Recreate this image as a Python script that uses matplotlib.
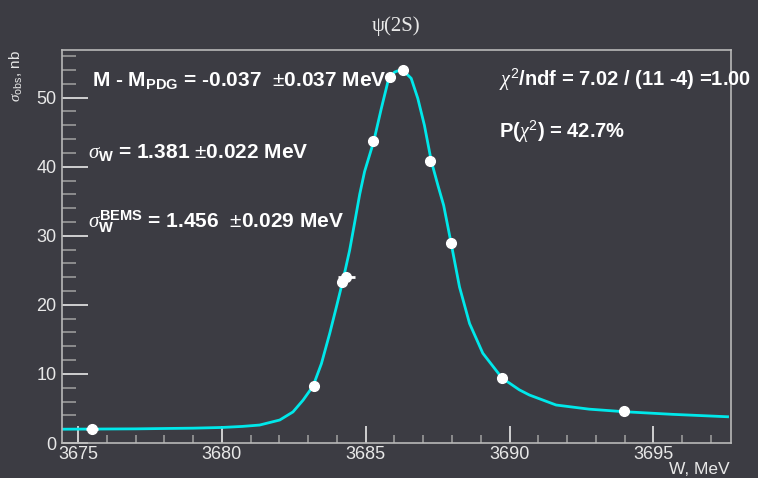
import matplotlib
matplotlib.use('Agg')
import matplotlib.pyplot as plt
from matplotlib.ticker import MultipleLocator

# measured cross section points
w_mev = [3675.48, 3683.19, 3684.16, 3684.33, 3685.27, 3685.83, 3686.28, 3687.25, 3687.98, 3689.75, 3693.99]
sigma_nb = [2.1, 8.2, 23.3, 24.0, 43.7, 53.0, 54.0, 40.8, 28.9, 9.4, 4.6]
w_err = [0.2, 0.05, 0.05, 0.28, 0.05, 0.05, 0.05, 0.05, 0.05, 0.05, 0.05]
sigma_err = [0.2, 0.3, 0.3, 0.3, 0.3, 0.3, 0.3, 0.3, 0.3, 0.3, 0.2]

# fit curve, sampled
fit_w = [3674.44, 3677.0, 3679.0, 3680.0, 3680.7, 3681.31, 3682.01, 3682.47, 3682.82,
         3683.17, 3683.46, 3683.75, 3683.98, 3684.21, 3684.44, 3684.61, 3684.79,
         3684.96, 3685.28, 3685.54, 3685.77, 3686.0, 3686.26, 3686.58, 3686.81,
         3687.04, 3687.28, 3687.51, 3687.71, 3687.97, 3688.26, 3688.61, 3689.07,
         3689.74, 3690.34, 3690.69, 3691.62, 3692.77, 3693.99, 3695.67, 3697.58]
fit_sigma = [2.0, 2.05, 2.15, 2.25, 2.4, 2.6, 3.33, 4.5, 6.2,
             8.25, 11.5, 15.9, 19.7, 23.6, 27.9, 31.8, 36.0,
             39.3, 43.7, 48.4, 52.3, 53.7, 54.1, 52.8, 49.9,
             46.0, 40.8, 37.3, 34.4, 28.9, 22.6, 17.3, 13.0,
             9.4, 7.7, 6.95, 5.5, 4.9, 4.53, 4.15, 3.8]

bg = '#3c3c43'
fg = '#e8e8e8'
plt.rcParams['font.family'] = ['Liberation Sans', 'DejaVu Sans']
plt.rcParams['mathtext.fontset'] = 'custom'
plt.rcParams['mathtext.rm'] = 'Liberation Sans'
plt.rcParams['mathtext.bf'] = 'Liberation Sans:bold'
plt.rcParams['mathtext.it'] = 'Liberation Serif:italic'

fig = plt.figure(figsize=(7.58, 4.78), dpi=100, facecolor=bg)
ax = fig.add_axes([0.0818, 0.0732, 0.8826, 0.8222], facecolor=bg)

ax.plot(fit_w, fit_sigma, color='#00e8ea', lw=2, zorder=2, solid_joinstyle='round')
ax.errorbar(w_mev, sigma_nb, xerr=w_err, yerr=sigma_err, fmt='o', color='white',
            ms=7, elinewidth=2, capsize=0, zorder=3)

ax.set_xlim(3674.44, 3697.7)
ax.set_ylim(0, 56.9)
ax.xaxis.set_major_locator(MultipleLocator(5))
ax.xaxis.set_minor_locator(MultipleLocator(1))
ax.yaxis.set_major_locator(MultipleLocator(10))
ax.yaxis.set_minor_locator(MultipleLocator(2))
ax.tick_params(which='both', direction='in', colors=fg, labelsize=13, top=False, right=False)
ax.tick_params(axis='y', which='major', length=19, width=1.2, pad=4)
ax.tick_params(axis='y', which='minor', length=10, width=1.2, color='#9a9a9a')
ax.tick_params(axis='x', which='major', length=12, width=1.2, pad=2)
ax.tick_params(axis='x', which='minor', length=6, width=1.2, color='#9a9a9a')
for s in ax.spines.values():
    s.set_color('#b8b8b8')
    s.set_linewidth(1.2)

ax.set_title('ψ(2S)', color=fg, fontsize=15, pad=14,
             family=['Liberation Serif', 'DejaVu Serif'])
fig.text(0.962, 0.002, 'W, MeV', color=fg, fontsize=12.5, ha='right', va='bottom')
fig.text(0.022, 0.895, r'$\sigma_{\mathrm{obs}}$, nb', color=fg, fontsize=11,
         rotation=90, ha='center', va='top')

txt = dict(color='white', fontsize=15, fontweight='bold', transform=fig.transFigure, va='center')
fig.text(0.121, 0.832, r'M - M$_{\mathbf{PDG}}$ = -0.037  $\pm$0.037 MeV', **txt)
fig.text(0.116, 0.681, r'$\sigma_{\mathbf{W}}$ = 1.381 $\pm$0.022 MeV', **txt)
fig.text(0.116, 0.536, r'$\sigma_{\mathbf{W}}^{\mathbf{BEMS}}$ = 1.456  $\pm$0.029 MeV', **txt)
txt['fontsize'] = 14.5
fig.text(0.658, 0.832, r'$\chi^2$/ndf = 7.02 / (11 -4) =1.00', **txt)
fig.text(0.658, 0.724, r'P($\chi^2$) = 42.7%', **txt)

fig.savefig('out.png', dpi=100, facecolor=bg)
